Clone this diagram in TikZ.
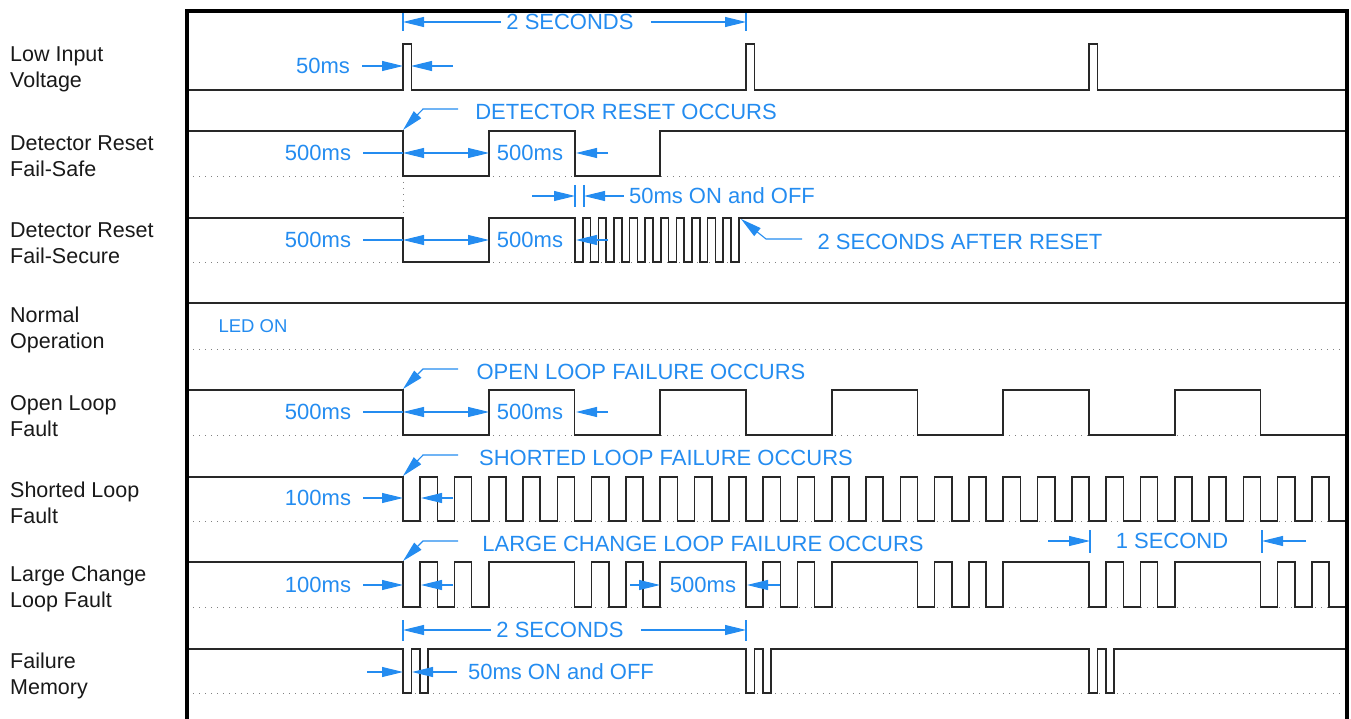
\documentclass[tikz,border=0pt]{standalone}
\usepackage{fontspec}
\setmainfont{Liberation Sans}
\usepackage{xcolor}
\usepackage{tikz}
\usetikzlibrary{arrows.meta, positioning, calc}
\definecolor{NoteBlue}{RGB}{36,140,240}
\definecolor{WaveGray}{RGB}{40,40,40}
\tikzset{
  >={Triangle[length=21pt,width=10pt]},
  % signals
  signal/.style={line width=1.6pt,WaveGray,line join=miter},
  low line/.style={line width=0.9pt,black!50,dash pattern=on 1pt off 5pt},
  frame/.style={line width=3.4pt,black},
  % annotations
  note/.style={NoteBlue,font=\fontsize{22}{26}\selectfont,inner sep=0pt},
  small note/.style={note,font=\fontsize{18.5}{22}\selectfont},
  row label/.style={align=left,anchor=west,inner sep=0pt,
    font=\fontsize{21.5}{26}\selectfont,text=black!90},
  dim/.style={NoteBlue,line width=1.1pt},
  dim arrow/.style={dim,->},
  dim both/.style={dim,<->},
  lead arrow/.style={dim,->}
}
\begin{document}
\begin{tikzpicture}[x=1pt,y=-1pt]
  \useasboundingbox (0,0) rectangle (1351,719);
  \def\tz{403}     % reset instant
  \def\sec{171.5}  % one second
  \def\fh{8.4}     % 50ms
  \def\hh{17.15}   % 100ms
  \def\hs{85.75}   % 500ms
  \def\xr{1347}    % right edge

  % row labels
  \node[row label] (lowin)   at (10,69)  {Low Input\\Voltage};
  \node[row label] (rsafe)   at (10,156) {Detector Reset\\Fail-Safe};
  \node[row label] (rsecure) at (10,243) {Detector Reset\\Fail-Secure};
  \node[row label] (normal)  at (10,330) {Normal\\Operation};
  \node[row label] (open)    at (10,416) {Open Loop\\Fault};
  \node[row label] (short)   at (10,503) {Shorted Loop\\Fault};
  \node[row label] (large)   at (10,589) {Large Change\\Loop Fault};
  \node[row label] (memory)  at (10,676) {Failure\\Memory};

  % dotted zero levels
  \foreach \y in {176,262,349,435,521,607,693}
    \draw[low line] (187,\y) -- (\xr,\y);
  \draw[low line] (\tz,176) -- (\tz,218);

  % waveforms
  \begin{scope}
    \clip (187,0) rectangle (\xr,719);
    % low input voltage
    \draw[signal] (187,90) \foreach \s in {0,2,4}{
      -- ({\tz+\s*\sec},90) -- ++(0,-46) -- ++(\fh,0) -- ++(0,46)} -- (\xr,90);
    % fail-safe
    \draw[signal] (187,131) -| (\tz,176) -| (489,131) -| (575,176) -| (660,131)
      -- (\xr,131);
    % fail-secure
    \draw[signal] (187,218) -| (\tz,262) -| (489,218) -- (575,218)
      \foreach \k in {1,...,10}{ -- ++(0,44) -- ++(7.8,0) -- ++(0,-44) -- ++(7.8,0)}
      -- ++(0,44) -- ++(7.8,0) -- ++(0,-44) -- (\xr,218);
    % normal operation
    \draw[signal] (187,303) -- (\xr,303);
    % open loop
    \draw[signal] (187,390) -- (\tz,390) \foreach \k in {0,...,5}{
      -- ++(0,45) -- ++(\hs,0) -- ++(0,-45) -- ++(\hs,0)};
    % shorted loop
    \draw[signal] (187,477) -- (\tz,477) \foreach \k in {0,...,27}{
      -- ++(0,44) -- ++(\hh,0) -- ++(0,-44) -- ++(\hh,0)};
    % large change
    \draw[signal] (187,562) \foreach \s in {0,...,5}{
      -- ({\tz+\s*\sec},562)
      -- ++(0,45) -- ++(\hh,0) -- ++(0,-45) -- ++(\hh,0)
      -- ++(0,45) -- ++(\hh,0) -- ++(0,-45) -- ++(\hh,0)
      -- ++(0,45) -- ++(\hh,0) -- ++(0,-45)} -- (\xr,562);
    % failure memory
    \draw[signal] (187,649) \foreach \s in {0,2,4}{
      -- ({\tz+\s*\sec},649) -- ++(0,44) -- ++(\fh,0) -- ++(0,-44) -- ++(\fh,0)
      -- ++(0,44) -- ++(\fh,0) -- ++(0,-44)} -- (\xr,649);
  \end{scope}

  % frame
  \draw[frame] (187,719) -- (187,11) -- (\xr,11) -- (\xr,719);

  % low input voltage notes
  \node[note] (secA) at (570,22) {2 SECONDS};
  \coordinate (secA0) at (\tz,22);
  \coordinate (secA2) at (746,22);
  \draw[dim] (\tz,13) -- (\tz,31);
  \draw[dim] (746,13) -- (746,31);
  \draw[dim arrow] ([xshift=-5pt]secA.west) -- (secA0);
  \draw[dim arrow] ([xshift=17pt]secA.east) -- (secA2);
  \node[note] (pulse) at (323,66) {50ms};
  \coordinate (pulseR) at (\tz,66);
  \coordinate (pulseF) at (411,66);
  \coordinate (pulseE) at (453,66);
  \draw[dim arrow] ([xshift=12pt]pulse.east) -- (pulseR);
  \draw[dim arrow] (pulseE) -- (pulseF);

  % fail-safe notes
  \node[note] (rstA) at (626,112) {DETECTOR RESET OCCURS};
  \coordinate (rstAl) at (458,109);
  \coordinate (rstAe) at (\tz,130);
  \draw[lead arrow] (rstAl) -- ++(-35,0) -- (rstAe);
  \node[note] (safeA) at (318,153) {500ms};
  \node[note] (safeB) at (530,153) {500ms};
  \coordinate (safe0) at (\tz,153);
  \coordinate (safe1) at (489,153);
  \coordinate (safe2) at (576,153);
  \coordinate (safe3) at (608,153);
  \draw[dim] ([xshift=12pt]safeA.east) -- (safe0);
  \draw[dim both] (safe0) -- (safe1);
  \draw[dim arrow] (safe3) -- (safe2);

  % fail-secure notes
  \node[note] (blink) at (722,196) {50ms ON and OFF};
  \coordinate (blink0) at (575,196);
  \coordinate (blink1) at (584,196);
  \coordinate (blinkS) at (532,196);
  \draw[dim] (575,185) -- (575,207);
  \draw[dim] (584,185) -- (584,207);
  \draw[dim arrow] (blinkS) -- (blink0);
  \draw[dim arrow] ([xshift=-5pt]blink.west) -- (blink1);
  \node[note] (secuA) at (318,240) {500ms};
  \node[note] (secuB) at (530,240) {500ms};
  \coordinate (secu0) at (\tz,240);
  \coordinate (secu1) at (489,240);
  \coordinate (secu2) at (576,240);
  \coordinate (secu3) at (608,240);
  \draw[dim] ([xshift=12pt]secuA.east) -- (secu0);
  \draw[dim both] (secu0) -- (secu1);
  \draw[dim arrow] (secu3) -- (secu2);
  \node[note] (after) at (960,242) {2 SECONDS AFTER RESET};
  \coordinate (afterl) at (802,239);
  \coordinate (aftere) at (741,219);
  \draw[lead arrow] (afterl) -- ++(-36,0) -- (aftere);

  % normal operation
  \node[small note] (ledon) at (253,326) {LED ON};

  % open loop notes
  \node[note] (openA) at (641,372) {OPEN LOOP FAILURE OCCURS};
  \coordinate (openAl) at (458,369);
  \coordinate (openAe) at (\tz,389);
  \draw[lead arrow] (openAl) -- ++(-35,0) -- (openAe);
  \node[note] (openB) at (318,412) {500ms};
  \node[note] (openC) at (530,412) {500ms};
  \coordinate (open0) at (\tz,412);
  \coordinate (open1) at (489,412);
  \coordinate (open2) at (576,412);
  \coordinate (open3) at (608,412);
  \draw[dim] ([xshift=12pt]openB.east) -- (open0);
  \draw[dim both] (open0) -- (open1);
  \draw[dim arrow] (open3) -- (open2);

  % shorted loop notes
  \node[note] (shortA) at (666,458) {SHORTED LOOP FAILURE OCCURS};
  \coordinate (shortAl) at (458,455);
  \coordinate (shortAe) at (\tz,476);
  \draw[lead arrow] (shortAl) -- ++(-35,0) -- (shortAe);
  \node[note] (shortB) at (318,498) {100ms};
  \coordinate (short0) at (\tz,498);
  \coordinate (short1) at (421,498);
  \coordinate (short2) at (453,498);
  \draw[dim arrow] ([xshift=12pt]shortB.east) -- (short0);
  \draw[dim arrow] (short2) -- (short1);

  % large change notes
  \node[note] (largeA) at (703,544) {LARGE CHANGE LOOP FAILURE OCCURS};
  \coordinate (largeAl) at (458,541);
  \coordinate (largeAe) at (\tz,561);
  \draw[lead arrow] (largeAl) -- ++(-35,0) -- (largeAe);
  \node[note] (largeB) at (318,585) {100ms};
  \coordinate (large0) at (\tz,585);
  \coordinate (large1) at (421,585);
  \coordinate (large2) at (453,585);
  \draw[dim arrow] ([xshift=12pt]largeB.east) -- (large0);
  \draw[dim arrow] (large2) -- (large1);
  \node[note] (largeC) at (703,585) {500ms};
  \coordinate (large3) at (630,585);
  \coordinate (large4) at (660,585);
  \coordinate (large5) at (747,585);
  \coordinate (large6) at (780,585);
  \draw[dim arrow] (large3) -- (large4);
  \draw[dim arrow] (large6) -- (large5);
  \node[note] (oneS) at (1172,541) {1 SECOND};
  \coordinate (oneS0) at (1048,541);
  \coordinate (oneS1) at (1090,541);
  \coordinate (oneS2) at (1262,541);
  \coordinate (oneS3) at (1306,541);
  \draw[dim] (1090,530) -- (1090,553);
  \draw[dim] (1262,530) -- (1262,553);
  \draw[dim arrow] (oneS0) -- (oneS1);
  \draw[dim arrow] (oneS3) -- (oneS2);

  % failure memory notes
  \node[note] (secB) at (560,630) {2 SECONDS};
  \coordinate (secB0) at (\tz,630);
  \coordinate (secB2) at (746,630);
  \draw[dim] (\tz,620) -- (\tz,641);
  \draw[dim] (746,620) -- (746,641);
  \draw[dim arrow] ([xshift=-5pt]secB.west) -- (secB0);
  \draw[dim arrow] ([xshift=17pt]secB.east) -- (secB2);
  \node[note] (memA) at (561,672) {50ms ON and OFF};
  \coordinate (mem0) at (\tz,672);
  \coordinate (mem1) at (412,672);
  \coordinate (memS) at (367,672);
  \draw[dim arrow] (memS) -- (mem0);
  \draw[dim arrow] ([xshift=-11pt]memA.west) -- (mem1);
\end{tikzpicture}
\end{document}
